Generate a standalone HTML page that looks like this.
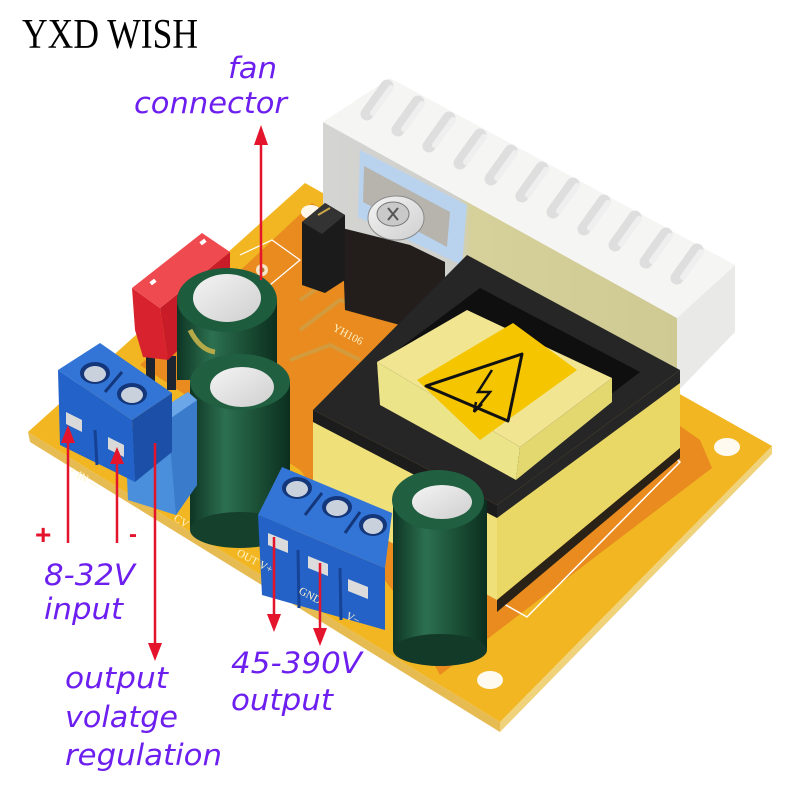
<!DOCTYPE html>
<html><head><meta charset="utf-8"><style>
html,body{margin:0;padding:0;background:#fff;}
svg{display:block;}
.lbl{font-family:"DejaVu Sans","Liberation Sans",sans-serif;font-style:italic;font-size:29px;fill:#6d1fef;}
.silk{font-family:"Liberation Serif",serif;font-size:11px;fill:#fff4c8;}
</style></head><body>
<svg width="800" height="800" viewBox="0 0 800 800" xmlns="http://www.w3.org/2000/svg">
<defs>
<linearGradient id="capg" x1="0" x2="1" y1="0" y2="0">
<stop offset="0" stop-color="#0e3524"/><stop offset="0.35" stop-color="#2c7050"/><stop offset="0.7" stop-color="#1a4d34"/><stop offset="1" stop-color="#0c2e1f"/>
</linearGradient>
<linearGradient id="hsf" x1="0" x2="1" y1="0" y2="0">
<stop offset="0" stop-color="#d4d4d2"/><stop offset="0.38" stop-color="#cfcfcb"/><stop offset="0.42" stop-color="#d6d09a"/><stop offset="1" stop-color="#cfc994"/>
</linearGradient>
<linearGradient id="silv" x1="0" x2="1" y1="0" y2="1">
<stop offset="0" stop-color="#f4f4f4"/><stop offset="1" stop-color="#cfcfcf"/>
</linearGradient>
</defs>

<!-- Board thickness -->
<polygon points="28,432 500,722 500,732 30,442" fill="#e6bb52"/>
<polygon points="500,722 772,446 772,454 500,732" fill="#f0d27a"/>
<!-- Board top -->
<polygon points="305,183 28,432 500,722 772,446" fill="#f1b622"/>
<!-- Orange copper area -->
<polygon points="312,203 140,365 300,470 400,600 440,675 712,468 700,440 600,370" fill="#e98b1f"/>
<!-- traces -->
<path d="M300,330 L340,300 L420,320 M290,360 L330,345 L360,360 M300,300 L330,280" stroke="#c9a24a" stroke-width="4" fill="none" opacity="0.7"/>
<!-- silk lines -->
<polyline points="497,600 527,617 680,462 672,455" fill="none" stroke="#fff" stroke-width="1.5"/>
<polyline points="240,255 272,240 300,260 270,285" fill="none" stroke="#fff" stroke-width="1.2"/>
<!-- holes -->
<ellipse cx="311" cy="212" rx="10" ry="7" fill="#fff8ea"/>
<ellipse cx="727" cy="447" rx="13" ry="9" fill="#fffaf0"/>
<ellipse cx="490" cy="680" rx="13" ry="9" fill="#fffaf0"/>
<circle cx="262" cy="270" r="6" fill="#f7e6c8"/><circle cx="262" cy="270" r="2.5" fill="#b07a30"/>

<!-- Heatsink -->
<polygon points="323,122 677,318 677,392 323,226" fill="url(#hsf)"/>
<polygon points="677,318 735,265 735,332 677,392" fill="#e9e9e7"/>
<polygon points="323,122 390,78 735,265 677,318" fill="#f5f5f4"/>
<g stroke-linecap="round">
<g stroke="#dedede" stroke-width="13">
<line x1="387" y1="86" x2="367" y2="114"/><line x1="418" y1="102" x2="398" y2="130"/><line x1="449" y1="118" x2="429" y2="146"/><line x1="480" y1="135" x2="460" y2="163"/><line x1="511" y1="151" x2="491" y2="179"/><line x1="542" y1="168" x2="522" y2="196"/><line x1="573" y1="184" x2="553" y2="212"/><line x1="604" y1="201" x2="584" y2="229"/><line x1="635" y1="217" x2="615" y2="245"/><line x1="666" y1="234" x2="646" y2="262"/><line x1="697" y1="250" x2="677" y2="278"/>
</g>
<g stroke="#efefef" stroke-width="6">
<line x1="391" y1="88" x2="373" y2="113"/><line x1="422" y1="104" x2="404" y2="129"/><line x1="453" y1="120" x2="435" y2="145"/><line x1="484" y1="137" x2="466" y2="162"/><line x1="515" y1="153" x2="497" y2="178"/><line x1="546" y1="170" x2="528" y2="195"/><line x1="577" y1="186" x2="559" y2="211"/><line x1="608" y1="203" x2="590" y2="228"/><line x1="639" y1="219" x2="621" y2="244"/><line x1="670" y1="236" x2="652" y2="261"/><line x1="701" y1="252" x2="683" y2="277"/>
</g>
</g>

<!-- TO-220 -->
<polygon points="360,150 467,205 462,265 358,217" fill="#b9d3ef"/>
<polygon points="364,166 450,212 447,247 363,202" fill="#b7b4ae"/>
<polygon points="342,228 410,245 445,262 445,330 400,325 345,310" fill="#231e1c"/>
<ellipse cx="396" cy="218" rx="28" ry="22" fill="url(#silv)" stroke="#8a8a8a" stroke-width="1"/>
<ellipse cx="393" cy="214" rx="16" ry="12" fill="#c9c9c9" stroke="#777" stroke-width="1"/>
<path d="M388,208 L398,220 M398,208 L388,220" stroke="#555" stroke-width="2"/>
<!-- jumper -->
<polygon points="302,222 325,203 345,215 345,280 325,293 302,285" fill="#1b1b1b"/>
<polygon points="302,222 325,203 345,215 322,234" fill="#333"/>
<line x1="318" y1="215" x2="330" y2="208" stroke="#c9a64a" stroke-width="2"/>

<!-- Transformer bobbin -->
<polygon points="313,410 497,505 497,600 313,500" fill="#efe07a"/>
<polygon points="497,505 680,370 680,448 497,600" fill="#e9d866"/>
<polygon points="497,600 680,448 680,458 497,612" fill="#2a2216"/>
<!-- black frame -->
<polygon points="313,410 497,505 497,518 313,422" fill="#1c1c1c"/>
<polygon points="497,505 680,370 680,383 497,518" fill="#262626"/>
<polygon points="467,255 680,370 497,505 313,410" fill="#262626"/>
<polygon points="480,288 640,372 512,470 376,366" fill="#0f0f0f"/>
<!-- core -->
<polygon points="377,362 520,447 516,480 380,405" fill="#ece488"/>
<polygon points="520,447 612,378 612,402 516,480" fill="#e3d870"/>
<polygon points="377,362 467,310 612,378 520,447" fill="#f1e592"/>
<polygon points="417,380 513,323 577,370 480,440" fill="#f5c500"/>
<polygon points="426,386 522,354 508,421" fill="none" stroke="#111" stroke-width="3" stroke-linejoin="round"/>
<path d="M492,370 L478,392 L490,392 L474,412 M474,412 L482,404 M474,412 L476,402" stroke="#111" stroke-width="2.5" fill="none"/>

<!-- Fuse -->
<rect x="146" y="352" width="9" height="34" fill="#1d2432"/>
<rect x="167" y="356" width="9" height="34" fill="#1d2432"/>
<polygon points="132,288 160,308 168,360 143,357 135,330" fill="#d8232f"/>
<polygon points="160,308 230,252 230,300 168,360" fill="#c81d28"/>
<polygon points="132,288 202,233 230,252 160,308" fill="#ef4a50"/>
<rect x="150" y="280" width="6" height="4" fill="#fff" transform="rotate(-38 153 282)"/>
<rect x="200" y="240" width="6" height="4" fill="#fff" transform="rotate(-38 203 242)"/>

<!-- Cap 1 (back) -->
<rect x="177" y="300" width="100" height="80" fill="url(#capg)"/>
<ellipse cx="227" cy="300" rx="50" ry="32" fill="#1d5c3d"/>
<ellipse cx="227" cy="298" rx="34" ry="24" fill="url(#silv)"/>
<path d="M190,330 Q200,350 215,352" stroke="#b6a94a" stroke-width="5" fill="none"/>
<!-- Cap 2 (front-left) -->
<rect x="190" y="382" width="100" height="148" fill="url(#capg)"/>
<ellipse cx="240" cy="530" rx="50" ry="18" fill="#15402c"/>
<ellipse cx="240" cy="382" rx="50" ry="28" fill="#205f40"/>
<ellipse cx="242" cy="387" rx="32" ry="20" fill="url(#silv)"/>
<!-- Cap 3 (right) -->
<rect x="393" y="500" width="94" height="150" fill="url(#capg)"/>
<ellipse cx="440" cy="650" rx="47" ry="16" fill="#133a28"/>
<ellipse cx="438" cy="500" rx="46" ry="30" fill="#205f40"/>
<ellipse cx="442" cy="502" rx="30" ry="17" fill="url(#silv)"/>

<!-- Potentiometer -->
<polygon points="125,432 188,392 197,400 197,485 176,515 128,500" fill="#4a8fdb"/>
<polygon points="168,420 197,400 197,485 176,515" fill="#3b7bcc"/>
<polygon points="125,432 188,392 197,400 168,420" fill="#6aa6e8"/>
<text x="0" y="0" font-family="Liberation Serif,serif" font-size="14" fill="#1d3f80" transform="translate(138,462) rotate(-60)">503 W</text>

<!-- Left terminal block -->
<polygon points="58,370 132,420 135,482 60,445" fill="#2362c8"/>
<polygon points="132,420 172,393 172,452 135,482" fill="#1b4fa8"/>
<polygon points="58,370 100,343 172,393 132,420" fill="#3375d6"/>
<ellipse cx="95" cy="373" rx="15" ry="11" fill="#14367a"/>
<ellipse cx="95" cy="374" rx="11" ry="8" fill="#c9d1dc"/>
<ellipse cx="132" cy="394" rx="15" ry="11" fill="#14367a"/>
<ellipse cx="132" cy="395" rx="11" ry="8" fill="#c9d1dc"/>
<line x1="105" y1="392" x2="122" y2="372" stroke="#14367a" stroke-width="3"/>
<polygon points="66,412 82,420 82,432 66,424" fill="#d9d9d9"/>
<polygon points="108,437 124,445 124,457 108,449" fill="#d9d9d9"/>
<line x1="95" y1="430" x2="97" y2="465" stroke="#164094" stroke-width="3"/>

<!-- Right terminal block -->
<polygon points="258,515 385,568 385,630 262,595" fill="#2462c8"/>
<polygon points="258,515 282,467 392,513 385,568" fill="#3375d6"/>
<ellipse cx="297" cy="488" rx="15" ry="11" fill="#14367a"/>
<ellipse cx="297" cy="489" rx="11" ry="8" fill="#c9d1dc"/>
<ellipse cx="337" cy="507" rx="15" ry="11" fill="#14367a"/>
<ellipse cx="337" cy="508" rx="11" ry="8" fill="#c9d1dc"/>
<ellipse cx="373" cy="525" rx="14" ry="11" fill="#14367a"/>
<ellipse cx="373" cy="526" rx="10" ry="8" fill="#c9d1dc"/>
<line x1="305" y1="515" x2="322" y2="493" stroke="#14367a" stroke-width="3"/>
<line x1="345" y1="533" x2="360" y2="512" stroke="#14367a" stroke-width="3"/>
<polygon points="268,533 288,541 288,553 268,545" fill="#dcdcdc"/>
<polygon points="308,556 328,564 328,576 308,568" fill="#dcdcdc"/>
<polygon points="348,579 368,587 368,599 348,591" fill="#dcdcdc"/>
<line x1="298" y1="550" x2="299" y2="608" stroke="#174396" stroke-width="3"/>
<line x1="340" y1="568" x2="341" y2="620" stroke="#174396" stroke-width="3"/>

<!-- silk labels -->
<text class="silk" transform="translate(68,472) rotate(32)">+ IN —</text>
<text class="silk" transform="translate(173,520) rotate(32)">CV</text>
<text class="silk" transform="translate(236,555) rotate(28)">OUT V+</text>
<text class="silk" transform="translate(298,593) rotate(28)">GND</text>
<text class="silk" transform="translate(345,618) rotate(28)">V−</text>
<text class="silk" transform="translate(332,330) rotate(28)" font-size="9">YH106</text>

<!-- Red arrows -->
<g stroke="#e4142c" stroke-width="2.5" fill="none">
<line x1="261" y1="280" x2="261" y2="140"/>
<line x1="68" y1="543" x2="68" y2="440"/>
<line x1="117" y1="543" x2="117" y2="462"/>
<line x1="155" y1="443" x2="155" y2="646"/>
<line x1="274" y1="537" x2="274" y2="616"/>
<line x1="320" y1="563" x2="320" y2="630"/>
</g>
<g fill="#e4142c">
<polygon points="261,125 254,145 268,145"/>
<polygon points="68,425 61,443 75,443"/>
<polygon points="117,447 110,464 124,464"/>
<polygon points="155,661 148,643 162,643"/>
<polygon points="274,632 267,614 281,614"/>
<polygon points="320,646 313,628 327,628"/>
</g>
<text x="35" y="544" font-family="Liberation Sans,sans-serif" font-size="28" font-weight="bold" fill="#e4142c">+</text>
<text x="129" y="542" font-family="Liberation Sans,sans-serif" font-size="24" font-weight="bold" fill="#e4142c">-</text>

<!-- Title -->
<text x="22" y="48" font-family="Liberation Serif,serif" font-size="42" fill="#000" textLength="176" lengthAdjust="spacingAndGlyphs">YXD WISH</text>

<!-- Purple labels -->
<text class="lbl" x="228" y="78" textLength="49" lengthAdjust="spacingAndGlyphs">fan</text>
<text class="lbl" x="134" y="113" textLength="153" lengthAdjust="spacingAndGlyphs">connector</text>
<text class="lbl" x="44" y="585" textLength="91" lengthAdjust="spacingAndGlyphs">8-32V</text>
<text class="lbl" x="44" y="619" textLength="79" lengthAdjust="spacingAndGlyphs">input</text>
<text class="lbl" x="65" y="688" textLength="103" lengthAdjust="spacingAndGlyphs">output</text>
<text class="lbl" x="65" y="727" textLength="113" lengthAdjust="spacingAndGlyphs">volatge</text>
<text class="lbl" x="65" y="765" textLength="157" lengthAdjust="spacingAndGlyphs">regulation</text>
<text class="lbl" x="231" y="673" textLength="131" lengthAdjust="spacingAndGlyphs">45-390V</text>
<text class="lbl" x="231" y="710" textLength="102" lengthAdjust="spacingAndGlyphs">output</text>
</svg>
</body></html>
